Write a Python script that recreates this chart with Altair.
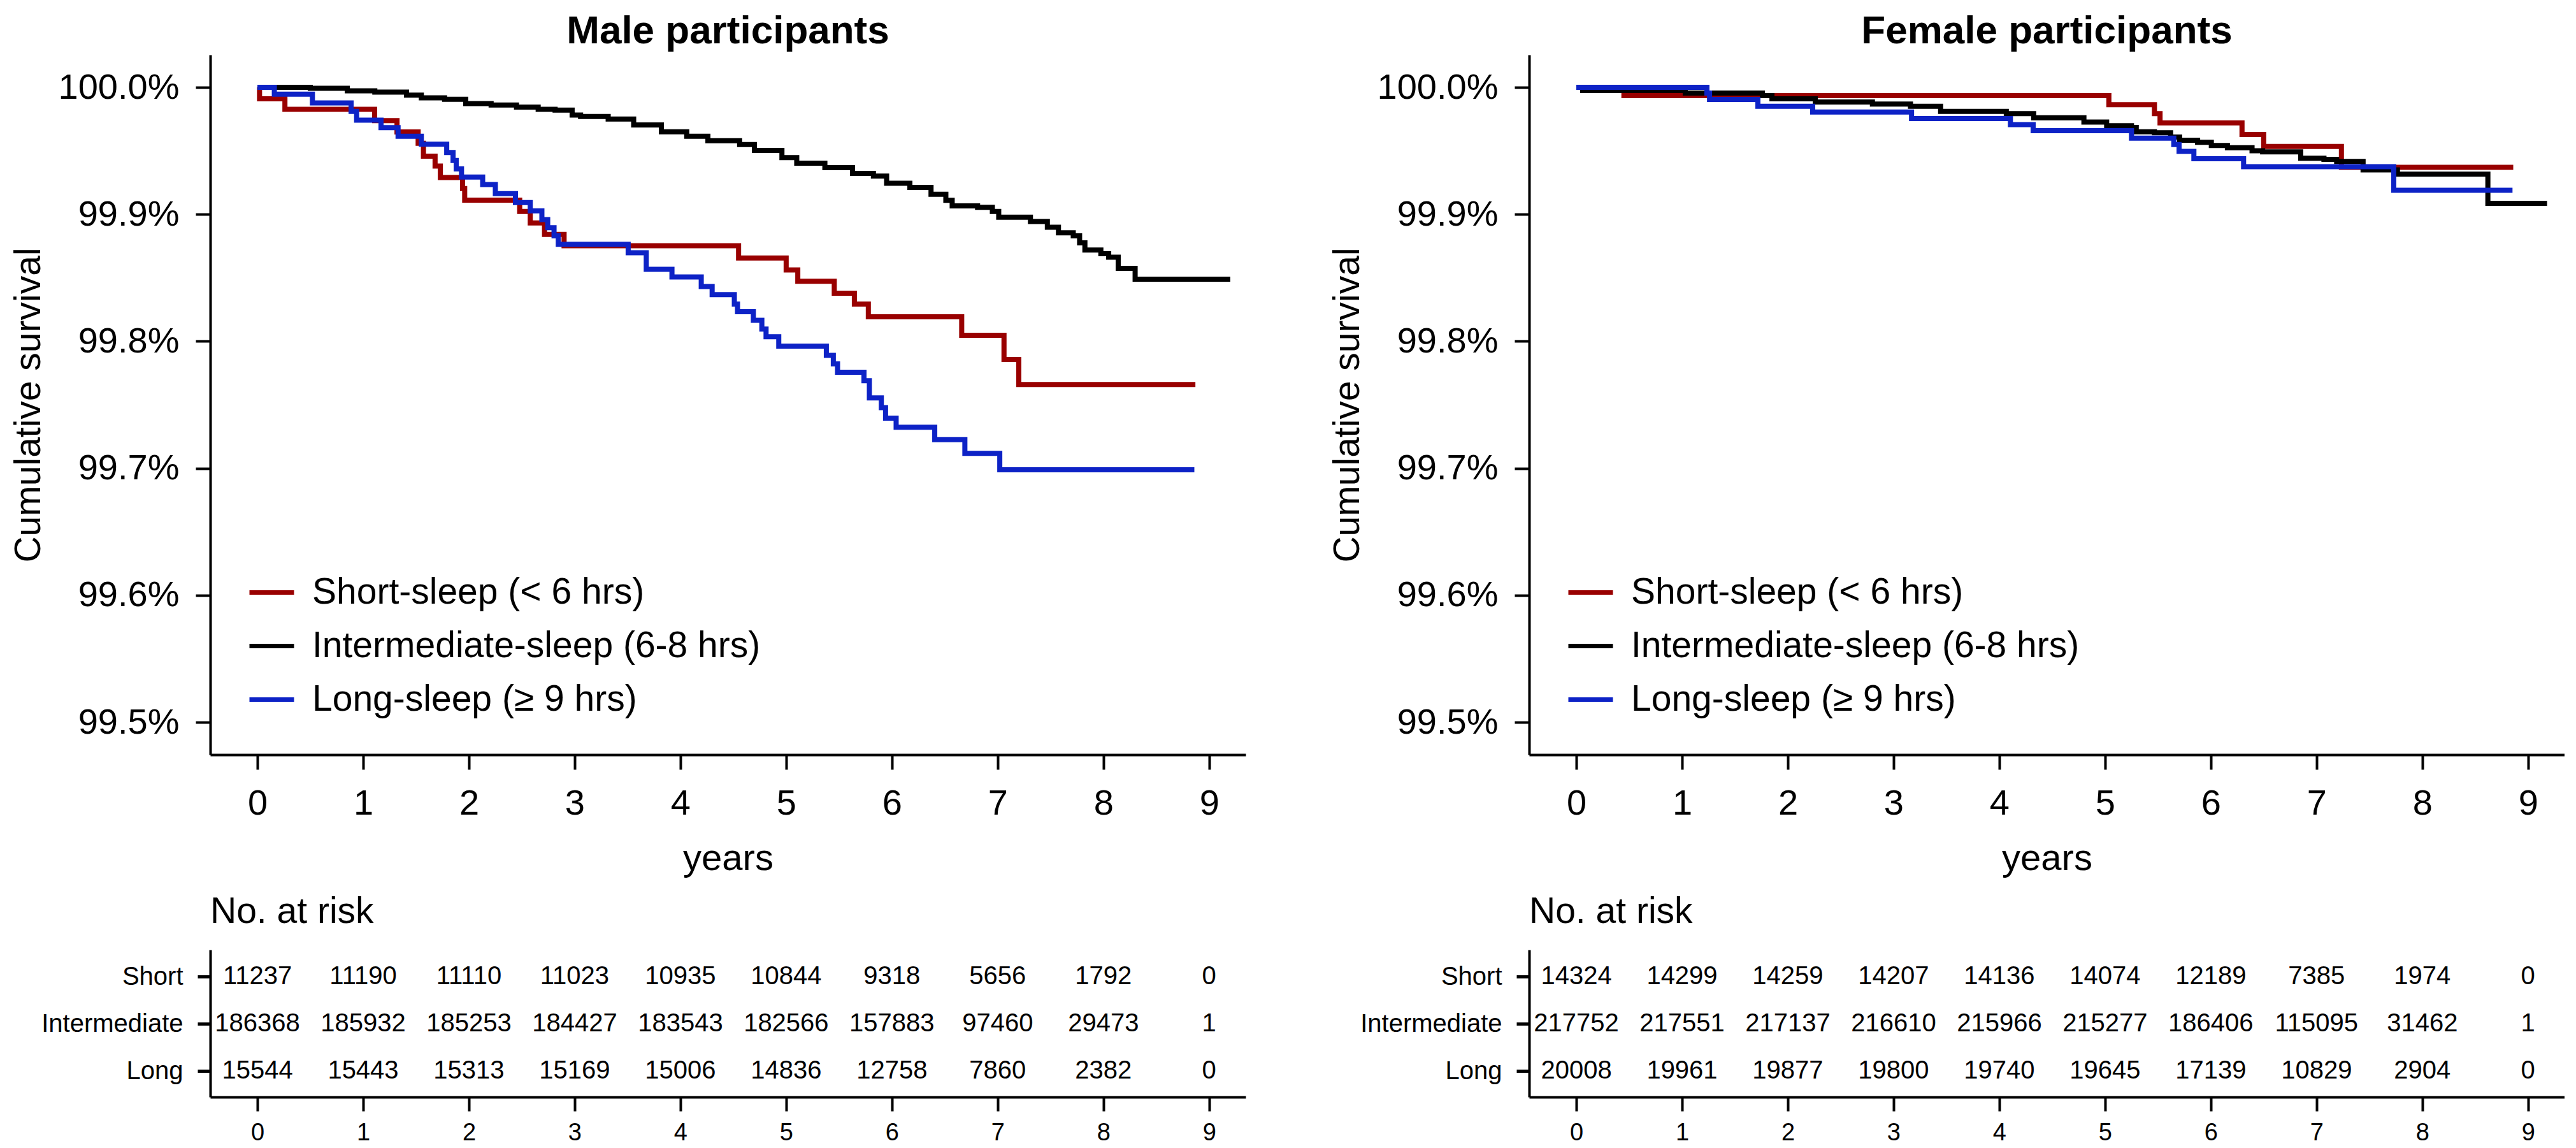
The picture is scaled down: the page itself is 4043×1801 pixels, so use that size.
import altair as alt
import pandas as pd

groups = ["Short-sleep (< 6 hrs)", "Intermediate-sleep (6-8 hrs)", "Long-sleep (≥ 9 hrs)"]
colors = ["#990000", "#000000", "#0d22c6"]
row_names = ["Short", "Intermediate", "Long"]
years = [0, 1, 2, 3, 4, 5, 6, 7, 8, 9]
y_ticks = [99.5, 99.6, 99.7, 99.8, 99.9, 100.0]

# Kaplan-Meier steps: (time in years, cumulative survival %)
male_short = [(0, 100.0), (0.02, 99.991), (0.26, 99.9827), (1.108, 99.9738), (1.32, 99.9649),
              (1.52, 99.9559), (1.57, 99.9458), (1.68, 99.938), (1.73, 99.929), (1.94, 99.9203),
              (1.96, 99.9112), (2.48, 99.9022), (2.58, 99.8932), (2.715, 99.8842), (2.90, 99.8753),
              (4.55, 99.8656), (5.0, 99.8562), (5.11, 99.8473), (5.455, 99.8379), (5.645, 99.8294),
              (5.777, 99.8193), (6.66, 99.8048), (7.06, 99.7857), (7.20, 99.766), (8.87, 99.766)]
male_inter = [(0, 100.0), (0.5, 99.9993), (0.85, 99.9973), (1.11, 99.9962), (1.41, 99.9939),
              (1.55, 99.9917), (1.77, 99.9906), (1.97, 99.9872), (2.21, 99.9861), (2.45, 99.9845),
              (2.655, 99.9827), (2.815, 99.982), (2.976, 99.9782), (3.056, 99.9771), (3.317, 99.975),
              (3.558, 99.9704), (3.82, 99.965), (4.06, 99.9615), (4.26, 99.958), (4.56, 99.955),
              (4.70, 99.9503), (4.96, 99.9447), (5.10, 99.9403), (5.366, 99.9368), (5.627, 99.9323),
              (5.825, 99.9301), (5.95, 99.9245), (6.17, 99.9212), (6.37, 99.9158), (6.51, 99.9111),
              (6.57, 99.9066), (6.81, 99.9055), (6.95, 99.9022), (7.01, 99.8977), (7.31, 99.8943),
              (7.47, 99.8898), (7.575, 99.8854), (7.715, 99.8831), (7.775, 99.8775), (7.825, 99.8719),
              (7.976, 99.869), (8.05, 99.8663), (8.14, 99.8574), (8.30, 99.8489), (9.20, 99.8489)]
male_long = [(0, 100.0), (0.16, 99.9946), (0.52, 99.9877), (0.886, 99.981), (0.938, 99.9742),
             (1.169, 99.9682), (1.33, 99.9615), (1.55, 99.9552), (1.79, 99.9487), (1.85, 99.9424),
             (1.88, 99.9358), (1.93, 99.9294), (2.13, 99.9234), (2.25, 99.9163), (2.44, 99.9093),
             (2.58, 99.9028), (2.69, 99.8959), (2.745, 99.8894), (2.805, 99.8831), (2.845, 99.8764),
             (3.506, 99.8697), (3.677, 99.8567), (3.92, 99.8507), (4.197, 99.8432), (4.30, 99.8368),
             (4.51, 99.8294), (4.54, 99.8233), (4.69, 99.8165), (4.77, 99.8097), (4.81, 99.8036),
             (4.93, 99.7962), (5.38, 99.789), (5.446, 99.7823), (5.486, 99.7757), (5.736, 99.769),
             (5.787, 99.7555), (5.90, 99.7478), (5.94, 99.7395), (6.04, 99.7324), (6.405, 99.7226),
             (6.69, 99.7118), (7.02, 99.6988), (8.86, 99.6988)]

female_short = [(0, 100.0), (0.45, 99.9935), (5.036, 99.9863), (5.467, 99.9793), (5.52, 99.972),
                (6.295, 99.9629), (6.5, 99.9534), (7.235, 99.937), (8.86, 99.937)]
female_inter = [(0, 100.0), (0.06, 99.9975), (1.03, 99.9955), (1.76, 99.9935), (1.85, 99.991),
                (2.26, 99.9885), (2.8, 99.9868), (3.16, 99.9851), (3.445, 99.981), (4.066, 99.9793),
                (4.325, 99.976), (4.8, 99.9726), (5.015, 99.9698), (5.25, 99.9684), (5.295, 99.965),
                (5.467, 99.9642), (5.62, 99.9609), (5.705, 99.9584), (5.875, 99.9567), (6.005, 99.9542),
                (6.157, 99.9525), (6.39, 99.95), (6.49, 99.9492), (6.85, 99.9442), (7.07, 99.9433),
                (7.19, 99.9417), (7.44, 99.935), (7.765, 99.9316), (8.62, 99.9086), (9.18, 99.9086)]
female_long = [(0, 100.0), (1.235, 99.9955), (1.26, 99.9905), (1.717, 99.9851), (2.235, 99.9806),
               (3.17, 99.9754), (4.105, 99.9706), (4.32, 99.9659), (5.25, 99.96), (5.65, 99.955),
               (5.70, 99.9495), (5.84, 99.9438), (6.31, 99.9375), (7.73, 99.919), (8.853, 99.919)]

# Numbers at risk
male_short_risk = [11237, 11190, 11110, 11023, 10935, 10844, 9318, 5656, 1792, 0]
male_inter_risk = [186368, 185932, 185253, 184427, 183543, 182566, 157883, 97460, 29473, 1]
male_long_risk = [15544, 15443, 15313, 15169, 15006, 14836, 12758, 7860, 2382, 0]
female_short_risk = [14324, 14299, 14259, 14207, 14136, 14074, 12189, 7385, 1974, 0]
female_inter_risk = [217752, 217551, 217137, 216610, 215966, 215277, 186406, 115095, 31462, 1]
female_long_risk = [20008, 19961, 19877, 19800, 19740, 19645, 17139, 10829, 2904, 0]

FONT = "Liberation Sans"
W = 1625
H = 1098
TH = 231
XDOM = [-0.446, 9.345]
YDOM = [99.4745, 100.0256]
TDOM = [0.446, 3.568]


def main_panel(title, series):
    rows = []
    for name, pts in zip(groups, series):
        for t, s in pts:
            rows.append({"t": t, "s": s, "g": name})
    df = pd.DataFrame(rows)
    base = alt.Chart(df)
    x = alt.X("t:Q", scale=alt.Scale(domain=XDOM, nice=False, zero=False),
              axis=alt.Axis(values=years, title="years", titleFontSize=58, titleFontWeight="normal",
                            titlePadding=30, labelFontSize=56, labelPadding=26, tickSize=23,
                            tickWidth=4, domainWidth=4, grid=False, labelFlush=False))
    y = alt.Y("s:Q", scale=alt.Scale(domain=YDOM, nice=False, zero=False),
              axis=alt.Axis(values=y_ticks, labelExpr="format(datum.value, '.1f') + '%'",
                            title="Cumulative survival", titleFontSize=57, titleFontWeight="normal",
                            titlePadding=56, labelFontSize=56, labelPadding=26, tickSize=23,
                            tickWidth=4, domainWidth=4, grid=False, labelOverlap=False,
                            labelLimit=0))
    color = alt.Color("g:N", scale=alt.Scale(domain=groups, range=colors),
                      legend=alt.Legend(title=None, orient="bottom-left", offset=58,
                                        symbolType="stroke", symbolStrokeWidth=7, symbolSize=4900,
                                        labelFontSize=57, labelFont=FONT, labelOffset=25,
                                        rowPadding=17, padding=0, labelLimit=0, labelColor="black"))
    layers = [base.transform_filter(alt.datum.g == name)
              .mark_line(interpolate="step-after", strokeWidth=8, clip=True)
              .encode(x=x, y=y, color=color) for name in groups]
    return alt.layer(*layers).properties(
        width=W, height=H,
        title=alt.Title(title, fontSize=62, fontWeight="bold", font=FONT, anchor="middle",
                        frame="group", offset=-44, baseline="alphabetic", color="black"))


def risk_table(risks):
    rows = []
    for rv, vals in zip([3, 2, 1], risks):
        for yr, n in zip(years, vals):
            rows.append({"yr": yr, "row": rv, "n": str(n)})
    df = pd.DataFrame(rows)
    return alt.Chart(df).mark_text(fontSize=40, font=FONT, baseline="middle", align="center",
                                   color="black").encode(
        x=alt.X("yr:Q", scale=alt.Scale(domain=XDOM, nice=False, zero=False),
                axis=alt.Axis(values=years, title=None, labelFontSize=38, labelPadding=15,
                              tickSize=22, tickWidth=4, domainWidth=4, grid=False, labelFlush=False)),
        y=alt.Y("row:Q", scale=alt.Scale(domain=TDOM, nice=False, zero=False),
                axis=alt.Axis(values=[1, 2, 3], title=None,
                              labelExpr="datum.value == 3 ? 'Short' : datum.value == 2 ? 'Intermediate' : 'Long'",
                              labelFontSize=40, labelPadding=23, tickSize=20, tickWidth=5,
                              domainWidth=4, grid=False, labelOverlap=False, labelLimit=0)),
        text="n:N",
    ).properties(width=W, height=TH,
                 title=alt.Title("No. at risk", fontSize=57, fontWeight="normal", font=FONT,
                                 anchor="start", frame="group", offset=-15, baseline="alphabetic",
                                 color="black"))


male = alt.vconcat(main_panel("Male participants", [male_short, male_inter, male_long]),
                   risk_table([male_short_risk, male_inter_risk, male_long_risk]),
                   spacing=26).resolve_scale(color="independent")
female = alt.vconcat(main_panel("Female participants", [female_short, female_inter, female_long]),
                     risk_table([female_short_risk, female_inter_risk, female_long_risk]),
                     spacing=26).resolve_scale(color="independent")

chart = alt.hconcat(male, female, spacing=131).resolve_scale(color="independent").properties(
    padding={"left": 8, "top": 10, "right": 0, "bottom": 0}
).configure(font=FONT).configure_view(stroke=None).configure_axis(
    labelColor="black", titleColor="black", domainColor="black", tickColor="black",
    labelFont=FONT, titleFont=FONT)

chart.save("out.html", embed_options={"renderer": "svg", "actions": False})
